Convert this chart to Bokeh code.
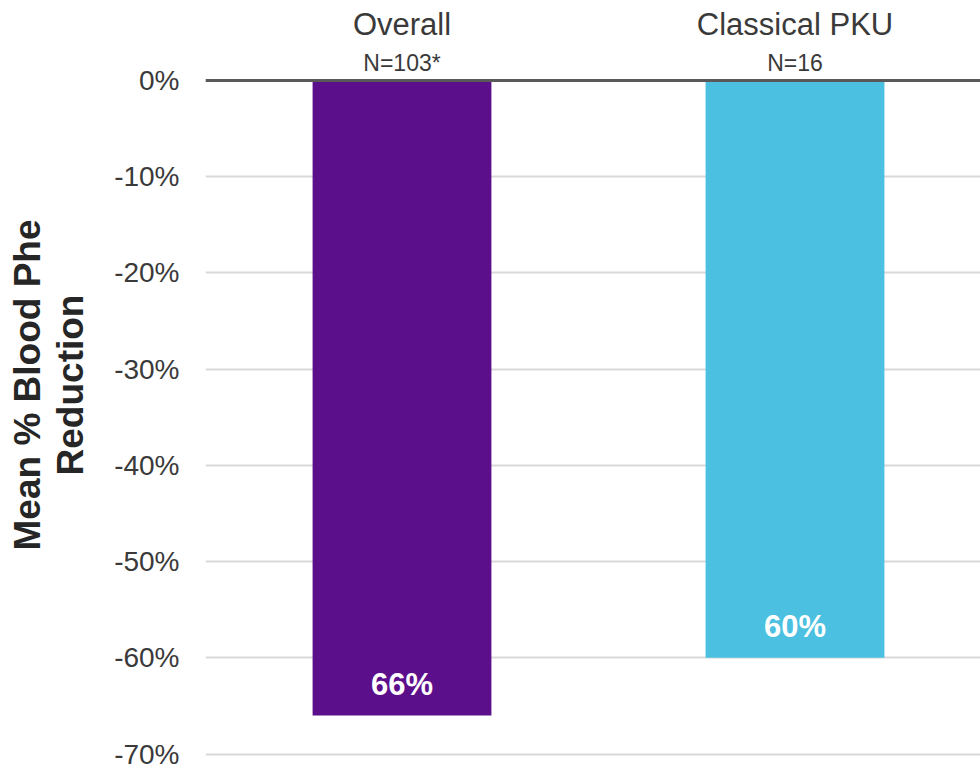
from bokeh.plotting import figure
from bokeh.models import Range1d, FixedTicker, PrintfTickFormatter, Span, ColumnDataSource
from bokeh.core.properties import value
from bokeh.embed import file_html
from bokeh.resources import INLINE
import numpy as np

# Data
categories = ["Overall", "Classical PKU"]
sample_sizes = ["N=103*", "N=16"]
mean_reduction = [-66, -60]          # mean % change in blood Phe
bar_colors = ["#5c0f8b", "#4bc0e0"]
y_ticks = [0, -10, -20, -30, -40, -50, -60, -70]

FONT = "Liberation Sans"
TEXT_COLOR = "#3a3a3a"

x_pos = np.arange(len(categories)) + 0.5
bar_labels = [f"{abs(v)}%" for v in mean_reduction]

source = ColumnDataSource(dict(
    x=x_pos,
    top=[0] * len(categories),
    bottom=mean_reduction,
    color=bar_colors,
    cat=categories,
    n=sample_sizes,
    label=bar_labels,
    zero=[0] * len(categories),
))

p = figure(
    width=980, height=769,
    x_range=Range1d(0, 1.972),
    y_range=Range1d(-71.6, 8.3),
    output_backend="svg",
    toolbar_location=None,
    min_border_left=205, min_border_right=0,
    min_border_top=0, min_border_bottom=0,
)
p.outline_line_color = None
p.background_fill_color = "white"
p.border_fill_color = "white"

# grid
p.xgrid.visible = False
p.ygrid.ticker = FixedTicker(ticks=y_ticks)
p.ygrid.grid_line_color = "#d9d9d9"
p.ygrid.grid_line_width = 2

# axes
p.xaxis.visible = False
yax = p.yaxis[0]
yax.ticker = FixedTicker(ticks=y_ticks)
yax.formatter = PrintfTickFormatter(format="%d%%")
yax.axis_line_color = None
yax.major_tick_line_color = None
yax.minor_tick_line_color = None
yax.major_label_standoff = 20
yax.major_label_text_font = FONT
yax.major_label_text_font_size = "28px"
yax.major_label_text_color = TEXT_COLOR
yax.axis_label = "Mean % Blood Phe\nReduction"
yax.axis_label_text_font = FONT
yax.axis_label_text_font_size = "37px"
yax.axis_label_text_font_style = "bold"
yax.axis_label_text_color = "#262626"
yax.axis_label_text_line_height = 1.05
yax.axis_label_standoff = 20

# bars
p.vbar(x="x", top="top", bottom="bottom", width=0.455, color="color",
       line_color=None, source=source)

# zero baseline
p.add_layout(Span(location=0, dimension="width", line_color="#595959", line_width=3))

# category headers above the baseline
p.text(x="x", y="zero", text="cat", source=source, text_align="center",
       text_baseline="alphabetic", y_offset=-56, text_font=value(FONT),
       text_font_size="31px", text_color=TEXT_COLOR)
p.text(x="x", y="zero", text="n", source=source, text_align="center",
       text_baseline="alphabetic", y_offset=-17, text_font=value(FONT),
       text_font_size="23px", text_color=TEXT_COLOR)

# value labels inside bar ends
p.text(x="x", y="bottom", text="label", source=source, text_align="center",
       text_baseline="alphabetic", y_offset=-31, text_font=value(FONT),
       text_font_size="31px", text_font_style="bold", text_color="white")

open("out.html", "w").write(file_html(p, INLINE))
